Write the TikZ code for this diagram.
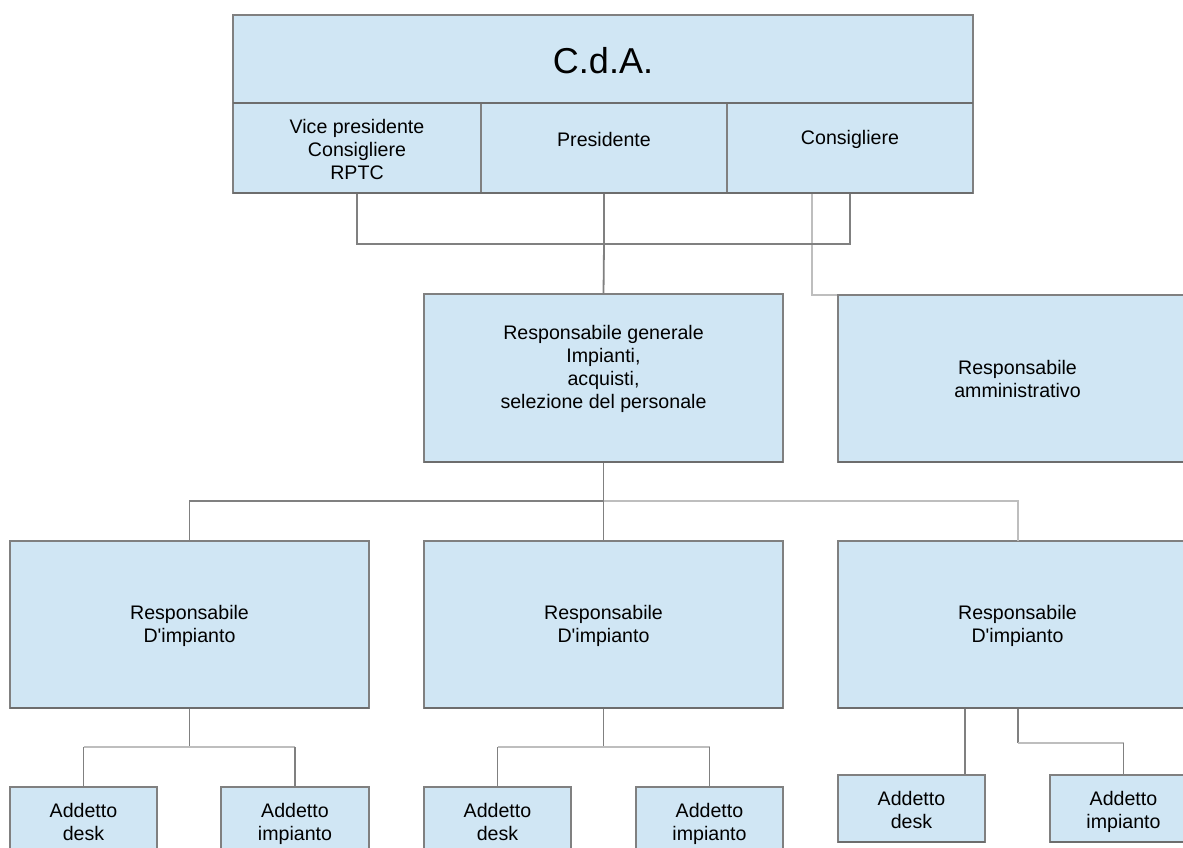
\documentclass[tikz,border=0pt]{standalone}
\usepackage{fontspec}
\setmainfont{Liberation Sans}
\usetikzlibrary{calc}
\definecolor{boxfill}{RGB}{208,230,244}
\definecolor{boxline}{RGB}{128,128,128}
\definecolor{lightline}{RGB}{190,190,190}
\tikzset{
  orgbox/.style={draw=boxline, line width=1.1pt, fill=boxfill, inner sep=0pt, outer sep=0pt},
  lbl/.style={align=center, font=\fontsize{19.6}{23}\selectfont, text=black, inner sep=0pt},
  conn/.style={draw=boxline, line width=1.8pt},
  lconn/.style={draw=lightline, line width=2pt},
  botedge/.style={draw=boxline!85!black, line width=2pt}
}
\begin{document}
\begin{tikzpicture}[x=1pt,y=-1pt]
\useasboundingbox (0,0) rectangle (1183,848);
\clip (0,0) rectangle (1183,848);

\coordinate (topL) at (357,244);
\coordinate (topR) at (850,244);
\coordinate (midJ) at (603.5,501);
\coordinate (lightA) at (812,193);

% ---- C.d.A. block ----
\node[orgbox, minimum width=740, minimum height=88] (cda) at (603,59) {};
\node[lbl, font=\fontsize{36}{40}\selectfont] at (603,61) {C.d.A.};
\node[orgbox, minimum width=248, minimum height=90] (vp) at (357,148) {};
\node[orgbox, minimum width=246, minimum height=90] (pres) at (604,148) {};
\node[orgbox, minimum width=246, minimum height=90] (cons) at (850,148) {};
\node[lbl] at (357,149.5) {Vice presidente\\Consigliere\\RPTC};
\node[lbl] at (604,139) {Presidente};
\node[lbl] at (850,139.5) {Consigliere};

% ---- level 2 ----
\path[lconn] (lightA) |- (1017.5,295);
\node[orgbox, minimum width=359, minimum height=168] (rg) at (603.5,378) {};
\node[lbl] at (603.5,368.5) {Responsabile generale\\Impianti,\\acquisti,\\selezione del personale};
\node[orgbox, minimum width=359, minimum height=167] (adm) at (1017.5,378.5) {};
\node[lbl] at (adm.center) {Responsabile\\amministrativo};

\path[conn] (vp.south) |- (topR) -- (cons.south);
\path[conn] (pres.south) -- (topL -| pres.south) -- (rg.north);

% ---- level 3 ----
\node[orgbox, minimum width=359, minimum height=167] (r1) at (189.5,624.5) {};
\node[orgbox, minimum width=359, minimum height=167] (r2) at (603.5,624.5) {};
\node[orgbox, minimum width=359, minimum height=167] (r3) at (1017.5,624.5) {};
\foreach \n in {r1,r2,r3} \node[lbl] at ($(\n.center)+(0,1.5)$) {Responsabile\\D\textquotesingle impianto};

\path[conn] (rg.south) -- (midJ);
\path[conn] (r1.north) |- (midJ) -- (r2.north);
\path[lconn] (midJ) -| (r3.north);

% ---- level 4 ----
\node[orgbox, minimum width=147, minimum height=67] (a1) at (83.5,820.5) {};
\node[orgbox, minimum width=148, minimum height=67] (i1) at (295,820.5) {};
\node[orgbox, minimum width=147, minimum height=67] (a2) at (497.5,820.5) {};
\node[orgbox, minimum width=147, minimum height=67] (i2) at (709.5,820.5) {};
\node[orgbox, minimum width=147, minimum height=67] (a3) at (911.5,808.5) {};
\node[orgbox, minimum width=147, minimum height=67] (i3) at (1123.5,808.5) {};
\foreach \n in {a1,a2,a3} \node[lbl] at ($(\n.center)+(0,1)$) {Addetto\\desk};
\foreach \n in {i1,i2,i3} \node[lbl] at ($(\n.center)+(0,3)$) {Addetto\\impianto};

\coordinate (j1) at (189.5,747);
\coordinate (j2) at (603.5,747);
\coordinate (j3) at (1018,743);
\coordinate (d3top) at (965,708);
\coordinate (d3bot) at (965,775);
\path[conn] (r1.south) -- (j1);
\path[lconn] (a1.north |- j1) -- (i1.north |- j1);
\path[conn] (a1.north) -- (a1.north |- j1);
\path[conn] (i1.north) -- (i1.north |- j1);
\path[conn] (r2.south) -- (j2);
\path[lconn] (a2.north |- j2) -- (i2.north |- j2);
\path[conn] (a2.north) -- (a2.north |- j2);
\path[conn] (i2.north) -- (i2.north |- j2);
\path[conn] (d3top) -- (d3bot);
\path[conn] (r3.south -| j3) -- (j3);
\path[lconn] (j3) -- (j3 -| i3.north);
\path[conn] (j3 -| i3.north) -- (i3.north);

% ---- darker bottom edges ----
\foreach \n in {cda,vp,pres,cons,rg,adm,r1,r2,r3,a3,i3}
  \path[botedge] (\n.south west) -- (\n.south east);
\end{tikzpicture}
\end{document}
